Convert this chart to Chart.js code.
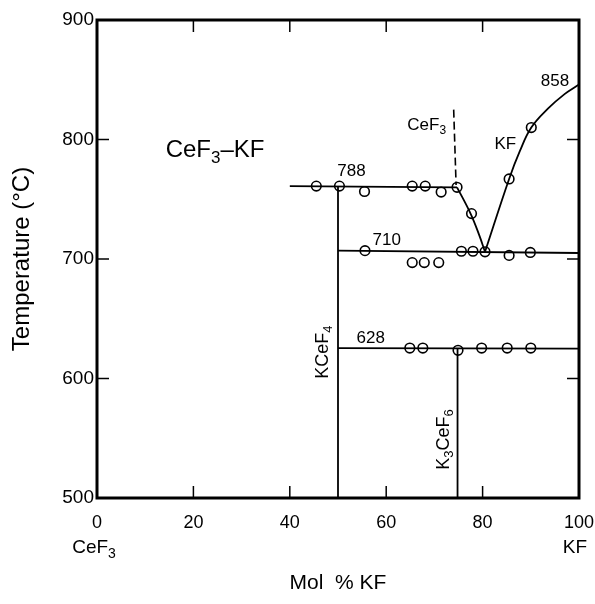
<!DOCTYPE html>
<html><head><meta charset="utf-8">
<script src="https://cdn.jsdelivr.net/npm/chart.js@4"></script>
<style>html,body{margin:0;padding:0;background:#fff}</style>
</head><body>
<canvas id="c" width="595" height="604"></canvas>
<script>
// ---- data (mol % KF, temperature °C) ----
const xTicks = [0, 20, 40, 60, 80, 100];
const yTicks = [500, 600, 700, 800, 900];
const innerTicksX = [20, 40, 60, 80];
const innerTicksY = [600, 700, 800];

const eutectic788X = [40, 74.7];
const eutectic788Y = [761, 760];
const peritectic710X = [50, 100];
const peritectic710Y = [707, 705];
const eutectic628X = [50, 100];
const eutectic628Y = [625.5, 625];
const kcef4X = [50, 50];
const kcef4Y = [500, 761];
const k3cef6X = [74.8, 74.8];
const k3cef6Y = [500, 625.5];
const liqCeF3X = [74.7, 77.5, 79.3, 80.5];
const liqCeF3Y = [760, 738, 720, 706];
const liqKFX = [80.5, 85.5, 87.7, 90.1, 93.6, 97.0, 100];
const liqKFY = [706, 767, 790, 810, 826, 838, 846];
const dashCeF3X = [74.0, 74.5];
const dashCeF3Y = [825, 762];

const pts788X = [45.5, 50.3, 55.5, 65.4, 68.1, 71.4, 74.7, 77.7];
const pts788Y = [761, 761, 756.5, 761, 761, 756, 760, 738];
const pts710X = [55.6, 75.6, 78.0, 80.5, 85.5, 89.9];
const pts710Y = [707, 706.5, 706.5, 706, 703, 705.5];
const ptsLowX = [65.4, 67.9, 70.9];
const ptsLowY = [697, 697, 697];
const ptsKFX = [85.5, 90.1];
const ptsKFY = [767, 810];
const pts628X = [64.9, 67.6, 74.9, 79.8, 85.1, 90.0];
const pts628Y = [625.5, 625.5, 623.6, 625.5, 625.5, 625.5];

const zip = (xs, ys) => xs.map((x, i) => ({x: x, y: ys[i]}));

const FONT = '"Liberation Sans", Arial, sans-serif';

function lineDs(xs, ys, extra) {
  return Object.assign({
    data: zip(xs, ys), showLine: true, borderColor: '#000', borderWidth: 1.8,
    pointRadius: 0, fill: false, tension: 0
  }, extra || {});
}
function ptDs(xs, ys) {
  return {
    data: zip(xs, ys), showLine: false, pointRadius: 4.8, pointBorderWidth: 1.6,
    pointBorderColor: '#000', pointBackgroundColor: '#fff', pointStyle: 'circle'
  };
}

// rich text with subscripts: parts = [[text, isSub], ...]
function drawRich(ctx, parts, cx, cy, size, rot) {
  ctx.save();
  ctx.translate(cx, cy);
  if (rot) ctx.rotate(rot);
  ctx.textBaseline = 'middle';
  ctx.textAlign = 'left';
  ctx.fillStyle = '#000';
  let total = 0;
  const widths = parts.map(p => {
    ctx.font = (p[1] ? Math.round(size * 0.72) : size) + 'px ' + FONT;
    const w = ctx.measureText(p[0]).width;
    total += w;
    return w;
  });
  let x = -total / 2;
  parts.forEach((p, i) => {
    ctx.font = (p[1] ? Math.round(size * 0.72) : size) + 'px ' + FONT;
    ctx.fillText(p[0], x, p[1] ? size * 0.32 : 0);
    x += widths[i];
  });
  ctx.restore();
}

const labels = [
  {parts: [['788', 0]], x: 52.8, y: 773, size: 17},
  {parts: [['710', 0]], x: 60.1, y: 716, size: 17},
  {parts: [['628', 0]], x: 56.8, y: 634, size: 17},
  {parts: [['858', 0]], x: 95.0, y: 848.5, size: 17},
  {parts: [['CeF', 0], ['3', 1]], x: 68.4, y: 812, size: 17},
  {parts: [['KF', 0]], x: 84.7, y: 796, size: 17},
  {parts: [['CeF', 0], ['3', 1], ['\u2013KF', 0]], x: 24.5, y: 791, size: 24},
  {parts: [['KCeF', 0], ['4', 1]], x: 46.9, y: 622, size: 18, rot: -Math.PI / 2},
  {parts: [['K', 0], ['3', 1], ['CeF', 0], ['6', 1]], x: 71.9, y: 549, size: 18, rot: -Math.PI / 2}
];

const framePlugin = {
  id: 'frame',
  afterDatasetsDraw(chart) {
    const {ctx, chartArea: a, scales: {x, y}} = chart;
    ctx.save();
    ctx.strokeStyle = '#000';
    ctx.lineCap = 'square';
    ctx.lineWidth = 3;
    ctx.strokeRect(a.left, a.top, a.right - a.left, a.bottom - a.top);
    ctx.lineWidth = 1.5;
    ctx.lineCap = 'butt';
    const L = 12;
    innerTicksX.forEach(v => {
      const px = x.getPixelForValue(v);
      ctx.beginPath(); ctx.moveTo(px, a.bottom); ctx.lineTo(px, a.bottom - L); ctx.stroke();
      ctx.beginPath(); ctx.moveTo(px, a.top); ctx.lineTo(px, a.top + L); ctx.stroke();
    });
    innerTicksY.forEach(v => {
      const py = y.getPixelForValue(v);
      ctx.beginPath(); ctx.moveTo(a.left, py); ctx.lineTo(a.left + L, py); ctx.stroke();
      ctx.beginPath(); ctx.moveTo(a.right, py); ctx.lineTo(a.right - L, py); ctx.stroke();
    });
    labels.forEach(l => {
      drawRich(ctx, l.parts, x.getPixelForValue(l.x), y.getPixelForValue(l.y), l.size, l.rot);
    });
    // component names under the ends of the composition axis
    drawRich(ctx, [['CeF', 0], ['3', 1]], x.getPixelForValue(0) - 3, a.bottom + 50, 19);
    drawRich(ctx, [['KF', 0]], x.getPixelForValue(100) - 4, a.bottom + 50, 19);
    ctx.restore();
  }
};

new Chart(document.getElementById('c'), {
  type: 'scatter',
  data: {
    datasets: [
      lineDs(eutectic788X, eutectic788Y),
      lineDs(peritectic710X, peritectic710Y),
      lineDs(eutectic628X, eutectic628Y),
      lineDs(kcef4X, kcef4Y),
      lineDs(k3cef6X, k3cef6Y),
      lineDs(liqCeF3X, liqCeF3Y, {tension: 0.4}),
      lineDs(liqKFX, liqKFY, {tension: 0.4}),
      lineDs(dashCeF3X, dashCeF3Y, {borderDash: [8, 4], borderWidth: 1.6}),
      ptDs(pts788X, pts788Y),
      ptDs(pts710X, pts710Y),
      ptDs(ptsLowX, ptsLowY),
      ptDs(ptsKFX, ptsKFY),
      ptDs(pts628X, pts628Y)
    ]
  },
  options: {
    responsive: false,
    animation: false,
    devicePixelRatio: 1,
    layout: {padding: {top: 20, right: 16, left: 0, bottom: 0}},
    plugins: {legend: {display: false}, tooltip: {enabled: false}},
    scales: {
      x: {
        type: 'linear', min: 0, max: 100,
        afterBuildTicks: s => { s.ticks = xTicks.map(v => ({value: v})); },
        afterFit: s => { s.height = 106; s.paddingLeft = 0; s.paddingRight = 0; },
        grid: {display: false, drawTicks: false},
        border: {display: false},
        ticks: {color: '#000', padding: 14, maxRotation: 0, autoSkip: false,
                font: {family: FONT, size: 18}},
        title: {display: true, text: 'Mol  % KF', color: '#000',
                font: {family: FONT, size: 21}, padding: {top: 0, bottom: 8}}
      },
      y: {
        type: 'linear', min: 500, max: 900,
        afterBuildTicks: s => { s.ticks = yTicks.map(v => ({value: v})); },
        afterFit: s => { s.width = 97; s.paddingTop = 0; s.paddingBottom = 0; },
        grid: {display: false, drawTicks: false},
        border: {display: false},
        ticks: {color: '#000', padding: 3, font: {family: FONT, size: 19}},
        title: {display: true, text: 'Temperature (\u00B0C)', color: '#000',
                font: {family: FONT, size: 24}, padding: {top: 8, bottom: 0}}
      }
    }
  },
  plugins: [framePlugin]
});
</script>
</body></html>
